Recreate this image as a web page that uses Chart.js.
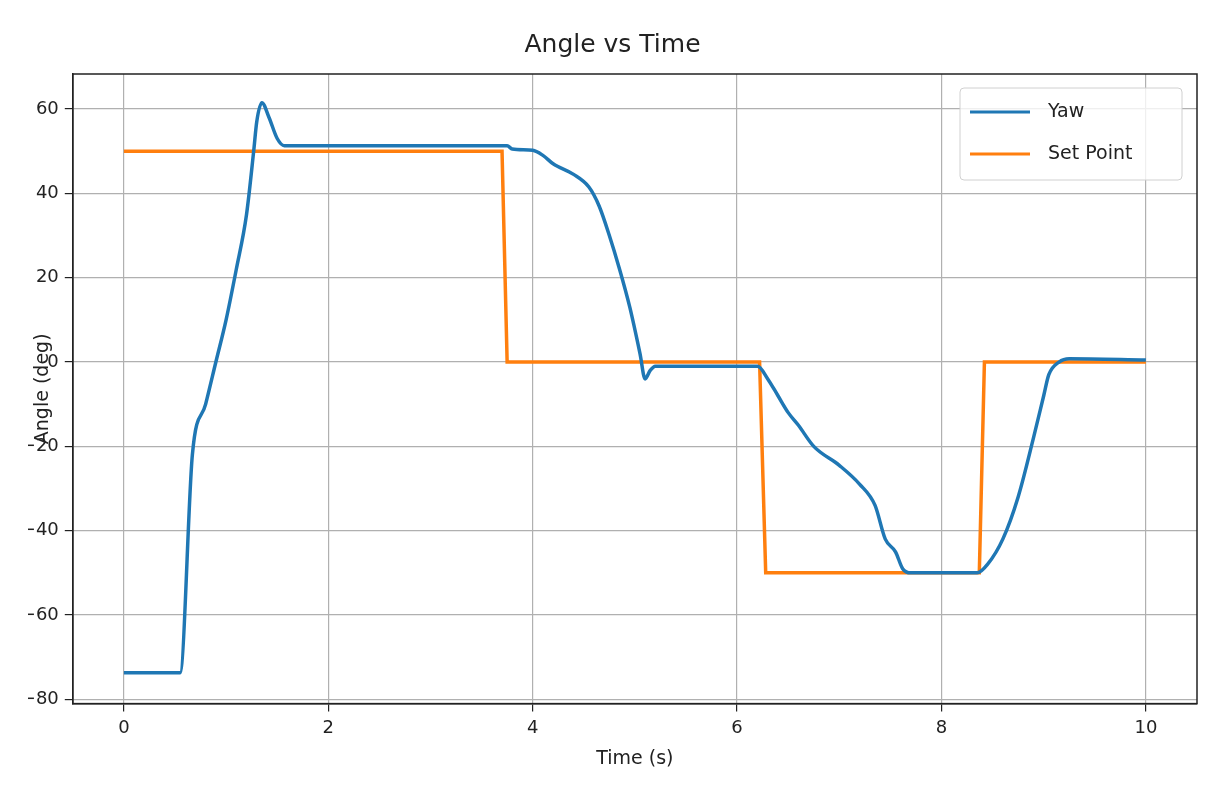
<!DOCTYPE html>
<html><head><meta charset="utf-8">
<script src="https://cdn.jsdelivr.net/npm/chart.js@4"></script>
<style>html,body{margin:0;padding:0;background:#fff;overflow:hidden}#w{position:absolute;left:-12px;top:0;width:1236px;height:812px}</style>
</head><body><div id="w"><canvas id="c"></canvas></div>
<script>
const yawT = [0,0.55,0.67,0.8,0.9,1.0,1.1,1.2,1.27,1.3,1.35,1.42,1.5,1.57,2,3,3.75,3.8,4.0,4.1,4.2,4.4,4.55,4.65,4.75,4.85,4.95,5.05,5.1,5.15,5.2,6.2,6.3,6.4,6.5,6.6,6.75,7.0,7.2,7.35,7.45,7.55,7.62,7.7,8.35,8.45,8.6,8.75,8.9,9.0,9.05,9.15,9.25,10];
const yawV = [-73.7,-73.7,-22,-10,0,10,22,35,50,57,61.5,58,53,51.3,51.3,51.3,51.3,50.5,50.2,49,47,44.5,41.5,37,30,22,13,2,-4,-2,-1,-1,-4,-8,-12,-15,-20,-24.5,-29,-34,-42,-45,-49,-50,-50,-48,-42,-32,-18,-8,-3,0,0.8,0.5];
const spT = [0,3.7,3.75,6.22,6.28,8.37,8.42,10];
const spV = [50,50,0,0,-50,-50,0,0];
const xTicks = [0,2,4,6,8,10];
const yTicks = [-80,-60,-40,-20,0,20,40,60];
const F = "'DejaVu Sans', sans-serif";
const pts = (t,v)=>t.map((x,i)=>({x,y:v[i]}));
const legendPlugin = {id:'lg', afterDraw(ch){
  const c=ch.ctx, a=ch.chartArea;
  c.save();
  c.strokeStyle='#222'; c.lineWidth=1.5; c.strokeRect(a.left,a.top,a.right-a.left,a.bottom-a.top);
  const x0=a.right-237, y0=a.top+14, w=222, h=92;
  c.fillStyle='rgba(255,255,255,0.8)'; c.strokeStyle='#d0d0d0'; c.lineWidth=1;
  c.beginPath(); c.roundRect(x0,y0,w,h,4); c.fill(); c.stroke();
  const items=[['Yaw','#1f77b4'],['Set Point','#ff7f0e']];
  c.font="19px "+F; c.textBaseline='middle';
  items.forEach((it,i)=>{const yy=y0+24+i*42;
    c.strokeStyle=it[1]; c.lineWidth=3; c.beginPath(); c.moveTo(x0+10,yy); c.lineTo(x0+70,yy); c.stroke();
    c.fillStyle='#222'; c.fillText(it[0],x0+88,yy);});
  c.restore();
}};
new Chart(document.getElementById('c'),{
  type:'line',
  data:{datasets:[
    {label:'Yaw',data:pts(yawT,yawV),borderColor:'#1f77b4',borderWidth:3.5,pointRadius:0,cubicInterpolationMode:'monotone'},
    {label:'Set Point',data:pts(spT,spV),borderColor:'#ff7f0e',borderWidth:3.5,pointRadius:0,tension:0}
  ]},
  plugins:[legendPlugin],
  options:{responsive:true,maintainAspectRatio:false,animation:false,
    layout:{padding:{left:40,right:27,top:14,bottom:38}},
    plugins:{legend:{display:false},tooltip:{enabled:false},
      title:{display:true,text:'Angle vs Time',color:'#222',font:{family:F,size:25,weight:'normal'},padding:{top:16,bottom:14}}},
    scales:{
      x:{type:'linear',min:-0.5,max:10.5,
        afterBuildTicks:s=>{s.ticks=xTicks.map(v=>({value:v}));},
        ticks:{color:'#222',font:{family:F,size:18},padding:6},
        grid:{color:'#b0b0b0',lineWidth:1.2,tickLength:8,tickColor:'#222'},
        border:{color:'#222',width:1.5},
        title:{display:true,text:'Time (s)',color:'#222',font:{family:F,size:19},padding:{top:2}}},
      y:{type:'linear',min:-81,max:68.3,
        afterBuildTicks:s=>{s.ticks=yTicks.map(v=>({value:v}));},
        ticks:{color:'#222',font:{family:F,size:18},padding:6,callback:v=>String(v).replace('-','\u2212')},
        grid:{color:'#b0b0b0',lineWidth:1.2,tickLength:8,tickColor:'#222'},
        border:{color:'#222',width:1.5},
        title:{display:true,text:'Angle (deg)',color:'#222',font:{family:F,size:19},padding:{bottom:-40}}}
    }}
});
</script></body></html>
